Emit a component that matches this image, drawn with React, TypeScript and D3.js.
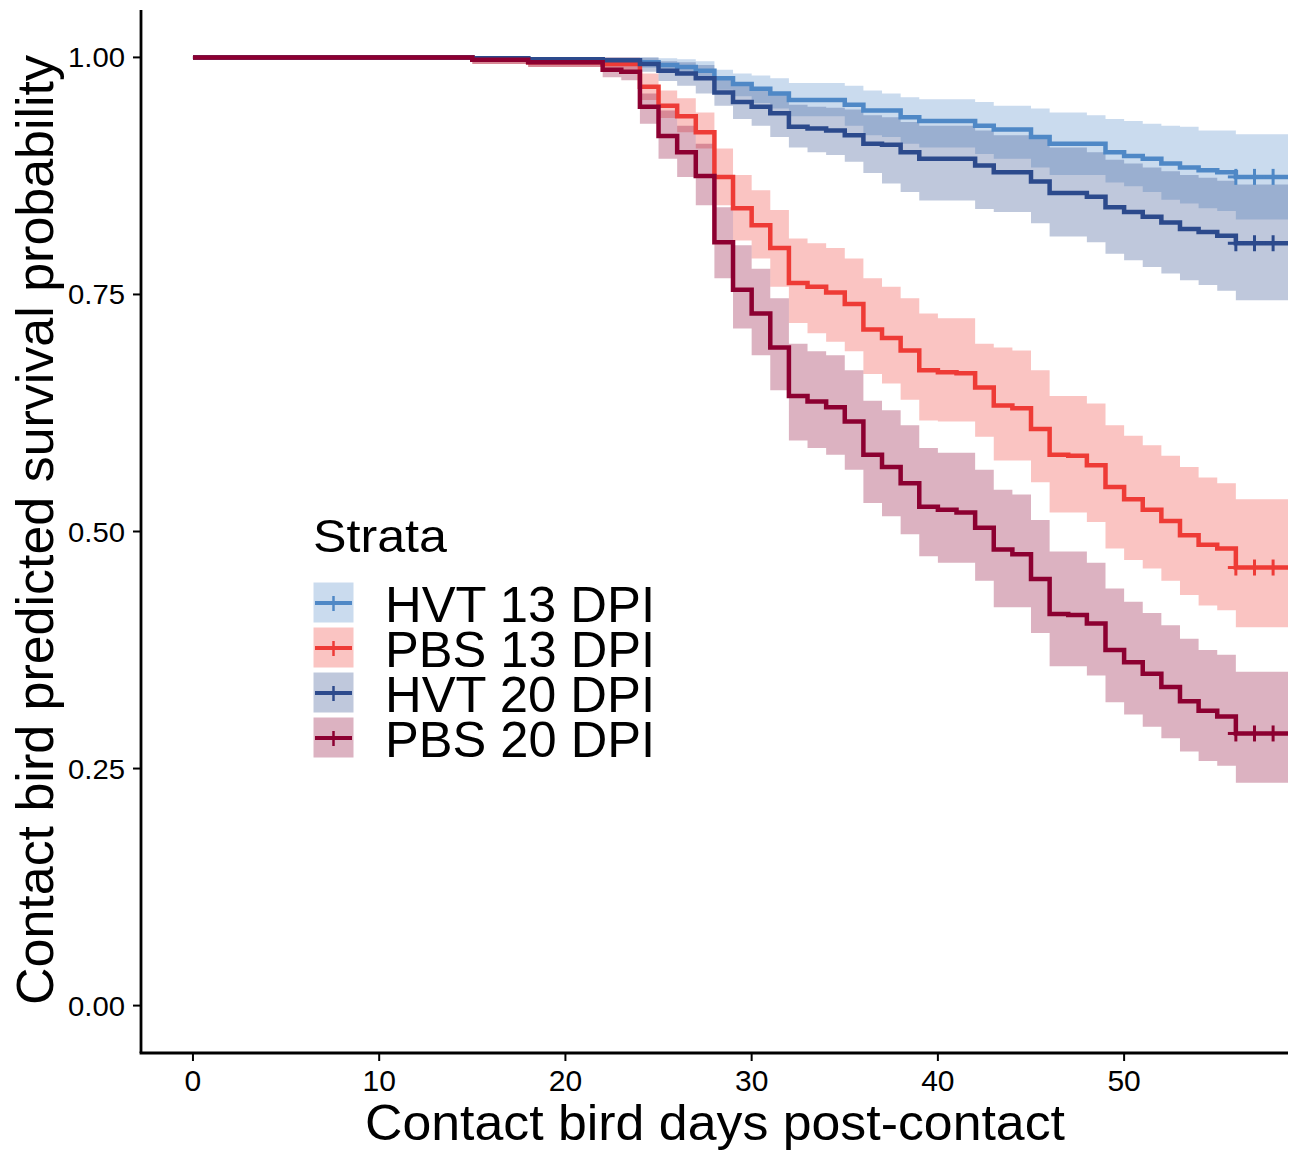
import React from 'react';
import * as d3 from 'd3';

// ---- data ----
const TIMES = [0, 15, 18, 22, 23, 24, 25, 26, 27, 28, 29, 30, 31, 32, 33, 34, 35, 36, 37, 38, 39, 40, 41, 42, 43, 44, 45, 46, 47, 48, 49, 50, 51, 52, 53, 54, 55, 56];
const END_TIME = 60;
const CENSOR_TIMES = [56, 57, 58];
const STRATA = ['HVT 13 DPI', 'PBS 13 DPI', 'HVT 20 DPI', 'PBS 20 DPI'];
const COLORS = ['#4F88C6', '#EE3B36', '#2C4A8C', '#8C0031'];
const X_TICKS = [0, 10, 20, 30, 40, 50];
const Y_TICKS = [0, 0.25, 0.5, 0.75, 1];

const HVT13_SURV = [1, 0.999, 0.998, 0.997, 0.997, 0.995, 0.992, 0.990, 0.986, 0.978, 0.972, 0.967, 0.962, 0.955, 0.955, 0.955, 0.950, 0.944, 0.944, 0.937, 0.933, 0.933, 0.933, 0.928, 0.924, 0.924, 0.916, 0.909, 0.909, 0.909, 0.900, 0.896, 0.893, 0.888, 0.884, 0.881, 0.879, 0.874];
const HVT13_UPPER = [1, 1, 1, 1, 1, 1, 0.999, 0.998, 0.996, 0.987, 0.983, 0.981, 0.978, 0.973, 0.973, 0.973, 0.970, 0.965, 0.962, 0.958, 0.956, 0.956, 0.956, 0.953, 0.949, 0.949, 0.946, 0.942, 0.942, 0.939, 0.935, 0.933, 0.930, 0.928, 0.927, 0.923, 0.923, 0.919];
const HVT13_LOWER = [1, 0.997, 0.995, 0.993, 0.993, 0.989, 0.985, 0.982, 0.977, 0.966, 0.959, 0.952, 0.946, 0.938, 0.938, 0.938, 0.928, 0.918, 0.916, 0.909, 0.905, 0.905, 0.905, 0.898, 0.893, 0.893, 0.884, 0.876, 0.876, 0.876, 0.868, 0.864, 0.858, 0.850, 0.846, 0.841, 0.838, 0.829];

const PBS13_SURV = [1, 0.9975, 0.995, 0.993, 0.993, 0.969, 0.949, 0.938, 0.921, 0.874, 0.841, 0.823, 0.799, 0.762, 0.758, 0.752, 0.740, 0.713, 0.704, 0.691, 0.670, 0.668, 0.667, 0.652, 0.633, 0.630, 0.608, 0.581, 0.580, 0.570, 0.547, 0.534, 0.523, 0.511, 0.496, 0.486, 0.482, 0.462];
const PBS13_UPPER = [1, 1, 1, 1, 1, 0.983, 0.965, 0.957, 0.942, 0.904, 0.876, 0.860, 0.839, 0.809, 0.804, 0.799, 0.788, 0.767, 0.758, 0.746, 0.730, 0.725, 0.725, 0.698, 0.694, 0.691, 0.670, 0.643, 0.643, 0.635, 0.612, 0.601, 0.591, 0.580, 0.568, 0.557, 0.551, 0.534];
const PBS13_LOWER = [1, 0.993, 0.990, 0.986, 0.986, 0.955, 0.936, 0.921, 0.904, 0.844, 0.807, 0.788, 0.758, 0.720, 0.709, 0.700, 0.690, 0.666, 0.656, 0.639, 0.617, 0.616, 0.616, 0.600, 0.575, 0.575, 0.552, 0.520, 0.520, 0.510, 0.482, 0.470, 0.461, 0.448, 0.433, 0.422, 0.417, 0.399];

const HVT20_SURV = [1, 0.999, 0.998, 0.997, 0.997, 0.993, 0.986, 0.983, 0.978, 0.963, 0.953, 0.948, 0.941, 0.927, 0.925, 0.923, 0.918, 0.909, 0.908, 0.900, 0.893, 0.893, 0.893, 0.886, 0.879, 0.879, 0.869, 0.857, 0.857, 0.853, 0.842, 0.837, 0.832, 0.826, 0.819, 0.816, 0.812, 0.804];
const HVT20_UPPER = [1, 1, 1, 1, 1, 1, 0.996, 0.995, 0.992, 0.979, 0.970, 0.966, 0.962, 0.950, 0.948, 0.947, 0.945, 0.939, 0.937, 0.932, 0.928, 0.928, 0.928, 0.923, 0.918, 0.918, 0.914, 0.905, 0.905, 0.900, 0.892, 0.888, 0.884, 0.880, 0.876, 0.873, 0.870, 0.866];
const HVT20_LOWER = [1, 0.996, 0.994, 0.992, 0.992, 0.985, 0.975, 0.970, 0.962, 0.949, 0.935, 0.928, 0.916, 0.905, 0.900, 0.897, 0.890, 0.878, 0.867, 0.858, 0.849, 0.849, 0.849, 0.840, 0.837, 0.837, 0.825, 0.811, 0.811, 0.805, 0.793, 0.786, 0.779, 0.772, 0.765, 0.760, 0.754, 0.744];

const PBS20_SURV = [1, 0.9975, 0.995, 0.987, 0.985, 0.948, 0.917, 0.900, 0.875, 0.805, 0.755, 0.730, 0.694, 0.643, 0.637, 0.631, 0.616, 0.581, 0.568, 0.551, 0.526, 0.523, 0.520, 0.504, 0.481, 0.476, 0.450, 0.413, 0.412, 0.403, 0.375, 0.362, 0.350, 0.336, 0.321, 0.311, 0.305, 0.287];
const PBS20_UPPER = [1, 1, 1, 0.998, 0.997, 0.962, 0.944, 0.928, 0.909, 0.842, 0.802, 0.777, 0.746, 0.698, 0.690, 0.686, 0.670, 0.638, 0.628, 0.612, 0.588, 0.583, 0.583, 0.565, 0.544, 0.539, 0.512, 0.479, 0.479, 0.467, 0.440, 0.426, 0.414, 0.401, 0.387, 0.375, 0.370, 0.352];
const PBS20_LOWER = [1, 0.993, 0.990, 0.979, 0.976, 0.930, 0.893, 0.874, 0.844, 0.767, 0.714, 0.686, 0.649, 0.596, 0.588, 0.581, 0.565, 0.530, 0.516, 0.497, 0.474, 0.467, 0.467, 0.448, 0.420, 0.420, 0.393, 0.358, 0.358, 0.348, 0.320, 0.307, 0.294, 0.282, 0.268, 0.258, 0.253, 0.235];

const SURV = [HVT13_SURV, PBS13_SURV, HVT20_SURV, PBS20_SURV];
const UPPER = [HVT13_UPPER, PBS13_UPPER, HVT20_UPPER, PBS20_UPPER];
const LOWER = [HVT13_LOWER, PBS13_LOWER, HVT20_LOWER, PBS20_LOWER];

const FONT = '"Liberation Sans", Arial, Helvetica, sans-serif';

export default function App() {
  const W = 1293;
  const H = 1150;
  const x = d3.scaleLinear().domain([-2.79, 58.8]).range([141, 1288]);
  const y = d3.scaleLinear().domain([-0.05, 1.05]).range([1053, 10]);

  type P = { t: number; s: number; lo: number; hi: number };
  const series = STRATA.map((name, i) => {
    const pts: P[] = TIMES.map((t, k) => ({ t, s: SURV[i][k], lo: LOWER[i][k], hi: UPPER[i][k] }));
    const last = pts[pts.length - 1];
    pts.push({ t: END_TIME, s: last.s, lo: last.lo, hi: last.hi });
    return { name, color: COLORS[i], pts, last };
  });

  const area = d3.area<P>().curve(d3.curveStepAfter).x(d => x(d.t)).y0(d => y(d.lo)).y1(d => y(d.hi));
  const line = d3.line<P>().curve(d3.curveStepAfter).x(d => x(d.t)).y(d => y(d.s));
  const fmt = d3.format('.2f');

  const x0 = x.range()[0];
  const x1 = x.range()[1];
  const yTop = y.range()[1];
  const yBot = y.range()[0];

  return (
    <svg width={W} height={H} style={{ position: 'absolute', left: 0, top: 0, background: '#fff' }} fontFamily={FONT}>
      <defs>
        <clipPath id="panel">
          <rect x={x0} y={yTop} width={x1 - x0} height={yBot - yTop} />
        </clipPath>
      </defs>
      <rect x={0} y={0} width={W} height={H} fill="#fff" />
      <g clipPath="url(#panel)">
        {series.map(s => (
          <path key={'a' + s.name} d={area(s.pts) || ''} fill={s.color} fillOpacity={0.3} stroke="none" />
        ))}
        {series.map(s => (
          <path key={'l' + s.name} d={line(s.pts) || ''} fill="none" stroke={s.color} strokeWidth={4.5} />
        ))}
        {series.map(s => (
          <g key={'c' + s.name} stroke={s.color}>
            {CENSOR_TIMES.map(ct => (
              <g key={ct}>
                <line x1={x(ct) - 8} x2={x(ct) + 8} y1={y(s.last.s)} y2={y(s.last.s)} strokeWidth={3} />
                <line x1={x(ct)} x2={x(ct)} y1={y(s.last.s) - 8} y2={y(s.last.s) + 8} strokeWidth={3} />
              </g>
            ))}
          </g>
        ))}
      </g>

      {/* axes */}
      <line x1={x0} x2={x0} y1={yTop} y2={yBot} stroke="#000" strokeWidth={2.8} />
      <line x1={x0 - 1.4} x2={x1} y1={yBot} y2={yBot} stroke="#000" strokeWidth={2.8} />
      {Y_TICKS.map(v => (
        <g key={'yt' + v}>
          <line x1={x0 - 8} x2={x0} y1={y(v)} y2={y(v)} stroke="#000" strokeWidth={2} />
          <text x={125} y={y(v) + 10} textAnchor="end" fontSize={28} fill="#000" textLength={57} lengthAdjust="spacingAndGlyphs">{fmt(v)}</text>
        </g>
      ))}
      {X_TICKS.map(v => (
        <g key={'xt' + v}>
          <line x1={x(v)} x2={x(v)} y1={yBot} y2={yBot + 8} stroke="#000" strokeWidth={2} />
          <text x={x(v)} y={1091} textAnchor="middle" fontSize={30} fill="#000">{v}</text>
        </g>
      ))}

      <text x={715} y={1140} textAnchor="middle" fontSize={50} fill="#000" textLength={700} lengthAdjust="spacingAndGlyphs">Contact bird days post-contact</text>
      <text transform="translate(53,530) rotate(-90)" textAnchor="middle" fontSize={52} fill="#000" textLength={950} lengthAdjust="spacingAndGlyphs">Contact bird predicted survival probability</text>

      {/* legend */}
      <text x={313} y={552} fontSize={46} fill="#000" textLength={134} lengthAdjust="spacingAndGlyphs">Strata</text>
      {series.map((s, i) => {
        const top = 582 + i * 45;
        return (
          <g key={'lg' + s.name}>
            <rect x={313} y={top} width={41} height={41} fill={s.color} fillOpacity={0.3} stroke="#fff" strokeWidth={1} />
            <line x1={315} x2={352} y1={top + 21} y2={top + 21} stroke={s.color} strokeWidth={4} />
            <line x1={333.5} x2={333.5} y1={top + 14} y2={top + 29} stroke={s.color} strokeWidth={2.5} />
            <text x={385} y={top + 40} fontSize={50} fill="#000" textLength={270} lengthAdjust="spacingAndGlyphs">{s.name}</text>
          </g>
        );
      })}
    </svg>
  );
}
